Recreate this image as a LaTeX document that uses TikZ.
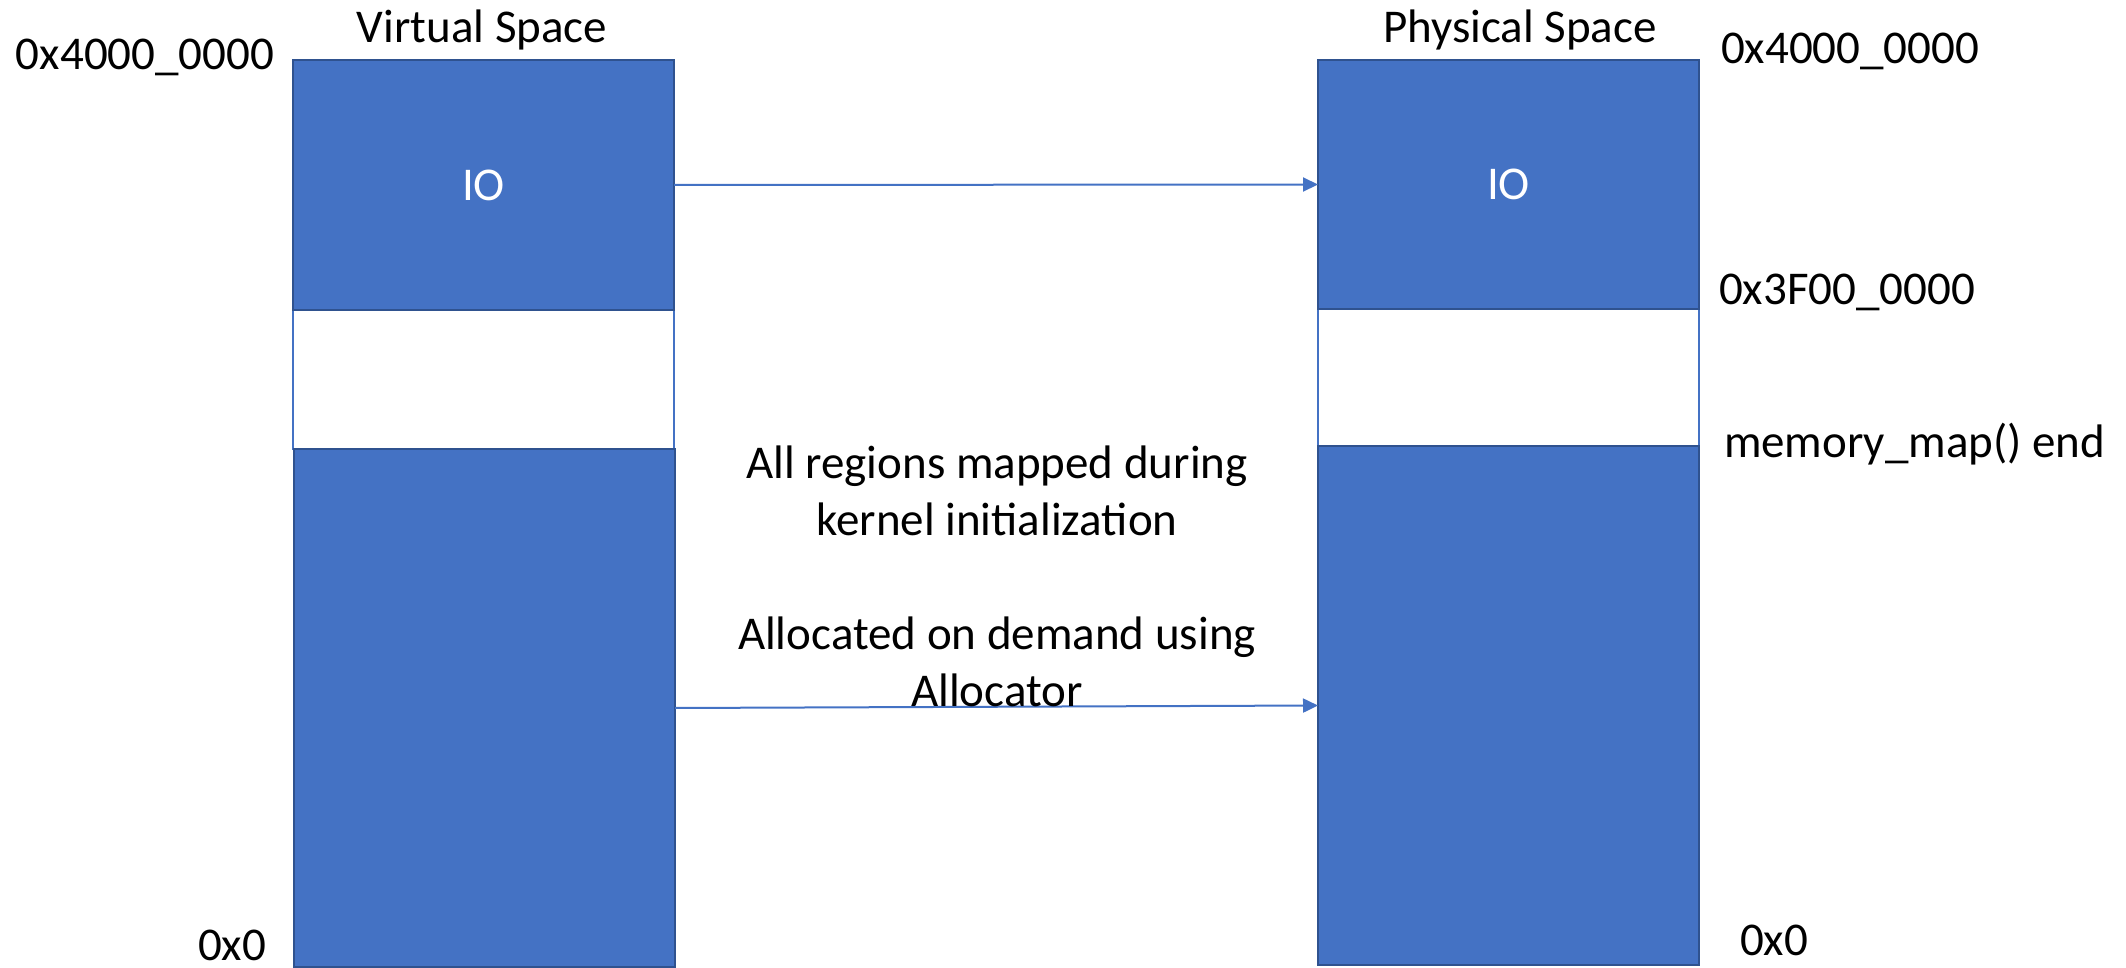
\documentclass[tikz,border=0pt]{standalone}
\usepackage{fontspec}
\setmainfont{Carlito}
\usetikzlibrary{arrows.meta}
\definecolor{regionblue}{HTML}{4472C4}
\definecolor{edgeblue}{HTML}{2F528F}
\begin{document}
\begin{tikzpicture}[x=0.5pt,y=-0.5pt,
  every node/.style={inner sep=0pt, outer sep=0pt, font=\fontsize{23.5pt}{28.5pt}\selectfont},
  region/.style={draw=edgeblue, line width=1pt, fill=regionblue, text=white, minimum width=190.5pt},
  hole/.style={draw=regionblue, line width=0.7pt, fill=white, minimum width=190.5pt},
  maparrow/.style={draw=regionblue, line width=1pt, -{Triangle[length=7.5pt,width=7pt]}},
  addr/.style={anchor=base west},
  note/.style={anchor=base}]
\useasboundingbox (0,0) rectangle (2126,968);

% virtual address space column
\node[hole, minimum height=69.5pt] (vgap) at (483.5,379.5) {};
\node[region, minimum height=125pt] (vio) at (483.5,185) {IO};
\node[region, minimum height=259pt] (vlow) at (484.5,708) {};

% physical address space column
\node[hole, minimum height=68.5pt] (pgap) at (1508.5,377.5) {};
\node[region, minimum height=124.5pt] (pio) at (1508.5,184.5) {IO};
\node[region, minimum height=259.5pt] (plow) at (1508.5,705.5) {};

% mappings
\draw[maparrow] (vio.east) -- (pio.west);
\draw[maparrow] (vlow.east) -- (plow.west);

% column titles
\node[note] (vtitle) at (482,43) {Virtual Space};
\node[note] (ptitle) at (1520,43) {Physical Space};

% address labels
\node[addr] (vtop) at (16,70) {0x4000\_0000};
\node[addr] (vzero) at (198,960) {0x0};
\node[addr] (ptop) at (1721,64) {0x4000\_0000};
\node[addr] (pio_end) at (1719,305) {0x3F00\_0000};
\node[addr] (pmap_end) at (1724,457) {memory\_map() end};
\node[addr] (pzero) at (1740,955) {0x0};

% explanation
\node[note] (n1) at (997,478) {All regions mapped during};
\node[note] (n2) at (997,535) {kernel initialization};
\node[note] (n3) at (997,649) {Allocated on demand using};
\node[note] (n4) at (997,706) {Allocator};
\end{tikzpicture}
\end{document}
